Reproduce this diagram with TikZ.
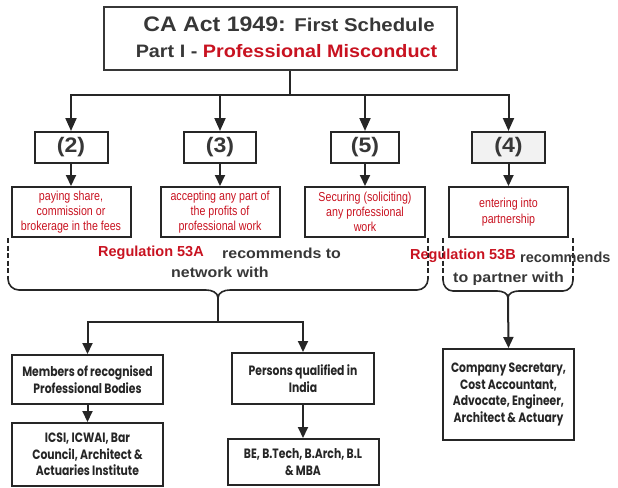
\documentclass[tikz,border=0pt]{standalone}
\usepackage{fontspec}
\setmainfont{Liberation Sans}
\newfontfamily\widefont[FakeStretch=1.1]{Liberation Sans}
\newfontfamily\narrowfont[FakeStretch=0.82]{Liberation Sans}
\newfontfamily\geofont[FakeStretch=0.8]{Poppins}
\usetikzlibrary{arrows.meta}
\definecolor{inkred}{RGB}{200,18,32}
\definecolor{ink}{RGB}{38,38,38}
\definecolor{darktext}{RGB}{55,55,55}
\definecolor{softgray}{RGB}{242,242,242}

\begin{document}
\begin{tikzpicture}[x=1pt,y=-1pt,
  box/.style={draw=ink,line width=2pt,rectangle,inner sep=0pt},
  numbox/.style={box,minimum height=31pt,text=darktext,
    font=\widefont\bfseries\fontsize{21}{24}\selectfont},
  descbox/.style={box,minimum width=119pt,minimum height=50pt,align=center,
    text=inkred,font=\narrowfont\fontsize{13}{15.3}\selectfont},
  groupbox/.style={box,align=center,text=ink,
    font=\geofont\bfseries\fontsize{13.5}{16.7}\selectfont},
  link/.style={draw=ink,line width=2pt},
  arr/.style={link,-{Triangle[length=11pt,width=10pt]}},
  bigarr/.style={link,-{Triangle[length=13pt,width=11pt]}},
  bracepath/.style={draw=ink,line width=1.6pt},
  regnote/.style={inner sep=0pt,anchor=base west,text=inkred,
    font=\bfseries\fontsize{14.5}{17}\selectfont},
  recnote/.style={inner sep=0pt,anchor=base west,text=darktext,
    font=\widefont\bfseries\fontsize{14.5}{17}\selectfont},
]
\useasboundingbox (0,0) rectangle (618,487);

% heading
\node[box,draw=darktext,minimum width=353pt,minimum height=63pt] (title) at (280.5,38.5) {};
\node[inner sep=0pt,anchor=base,text=darktext] (titleA) at (289,32)
  {\widefont\bfseries\fontsize{21}{24}\selectfont CA Act 1949: \fontsize{18.5}{22}\selectfont First Schedule};
\node[inner sep=0pt,anchor=base,text=darktext] (titleB) at (286.5,57)
  {\widefont\bfseries\fontsize{18}{22}\selectfont Part I - \textcolor{inkred}{Professional Misconduct}};

% clause numbers
\node[numbox,minimum width=73pt] (n2) at (71,147.5) {(2)};
\node[numbox,minimum width=72pt] (n3) at (220,147.5) {(3)};
\node[numbox,minimum width=68pt] (n5) at (365,147.5) {(5)};
\node[numbox,minimum width=73pt,fill=softgray] (n4) at (508.5,147.5) {(4)};

% clause descriptions
\node[descbox] (d2) at (71,212) {paying share,\\commission or\\brokerage in the fees};
\node[descbox] (d3) at (220,212) {accepting any part of\\the profits of\\professional work};
\node[descbox,minimum width=120pt] (d5) at (365,212) {Securing (soliciting)\\any professional\\work};
\node[descbox] (d4) at (508.5,212) {entering into\\partnership};

% top distribution
\coordinate (j0) at (290,95);
\draw[link] (j0 |- title.south) -- (j0);
\draw[bigarr] (j0) -| (n2.north);
\draw[bigarr] (j0) -| (n4.north);
\draw[bigarr] (n3.north |- j0) -- (n3.north);
\draw[bigarr] (n5.north |- j0) -- (n5.north);
\foreach \k in {2,3,5,4} \draw[arr] (n\k) -- (d\k);

% left brace (clauses 2, 3, 5)
\coordinate (tipA) at (218,298);
\draw[bracepath,dash pattern=on 5pt off 2.5pt] (8,238) -- (8,279);
\draw[bracepath,dash pattern=on 5pt off 2.5pt] (428,238) -- (428,279);
\draw[bracepath] (8,279) to[out=-90,in=180] (19,290) -- (206,290)
  to[out=0,in=90] (tipA) to[out=90,in=180] (230,290) -- (417,290)
  to[out=0,in=-90] (428,279);

% right brace (clause 4)
\coordinate (tipB) at (508,298);
\draw[bracepath,dash pattern=on 5pt off 2.5pt] (443,238) -- (443,280);
\draw[bracepath,dash pattern=on 5pt off 2.5pt] (573,238) -- (573,280);
\draw[bracepath] (443,280) to[out=-90,in=180] (453,291) -- (497,291)
  to[out=0,in=90] (tipB) to[out=90,in=180] (519,291) -- (563,291)
  to[out=0,in=-90] (573,280);

% notes on the braces
\node[regnote] (regA) at (98,256) {Regulation 53A};
\node[recnote] (recA1) at (222,258) {recommends to};
\node[recnote] (recA2) at (171,277) {network with};
\node[regnote] (regB) at (410,259) {Regulation 53B};
\node[recnote,font=\bfseries\fontsize{14.5}{17}\selectfont] (recB1) at (520,262) {recommends};
\node[recnote] (recB2) at (453,282) {to partner with};

% networking groups
\node[groupbox,minimum width=151pt,minimum height=49pt] (m1) at (87.5,379.5)
  {Members of recognised\\Professional Bodies};
\node[groupbox,minimum width=151pt,minimum height=63pt] (m2) at (87.5,454.5)
  {ICSI, ICWAI, Bar\\Council, Architect \&\\Actuaries Institute};
\node[groupbox,minimum width=142pt,minimum height=51pt] (p1) at (303,378.5)
  {Persons qualified in\\India};
\node[groupbox,minimum width=151pt,minimum height=46pt] (p2) at (303,462)
  {BE, B.Tech, B.Arch, B.L\\\& MBA};

% partnership group
\node[groupbox,minimum width=131pt,minimum height=91pt] (cs) at (508.5,394.5)
  {Company Secretary,\\Cost Accountant,\\Advocate, Engineer,\\Architect \& Actuary};

% lower connectors
\coordinate (jB) at (218,322);
\draw[arr] (tipA) -- (jB) -| (m1.north);
\draw[arr] (jB) -| (p1.north);
\draw[arr] (m1) -- (m2);
\draw[arr] (p1) -- (p2);
\draw[arr] (tipB) -- (cs.north);
\end{tikzpicture}
\end{document}
